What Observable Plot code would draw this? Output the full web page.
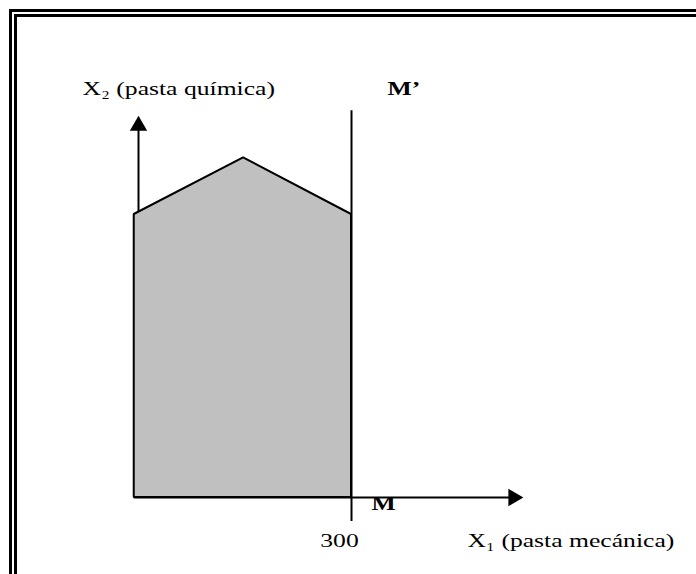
<!DOCTYPE html>
<html>
<head>
<meta charset="utf-8">
<script src="https://cdn.jsdelivr.net/npm/d3@7"></script>
<script src="https://cdn.jsdelivr.net/npm/@observablehq/plot@0.6"></script>
<style>
  html, body { margin: 0; padding: 0; background: #fff; overflow: hidden; width: 696px; height: 574px; }
  #wrap { position: relative; width: 696px; height: 574px; }
  #frame { position: absolute; left: 9px; top: 9px; width: 900px; height: 900px;
           border-top: 8px double #000; border-left: 8px double #000; pointer-events: none; }
  #chart { position: absolute; left: 0; top: 0; }
</style>
</head>
<body>
<div id="wrap"><div id="chart"></div><div id="frame"></div></div>
<script>
// Feasible region outline (x1 = pasta mecánica, x2 = pasta química)
const roofX = [-6, 148, 300];
const roofY = [100, 120, 100];
// Constraint line M–M' at x1 = 300
const limitX = [300];
const limitY1 = -8.5, limitY2 = 136.7;
// Axes
const axisXStart = -6, axisXEnd = 528;   // x1 axis (arrow head centre at end)
const axisYEnd = 131.4;                  // x2 axis (arrow head centre at end)
// Labels
const labelText = ["X\u2082 (pasta química)", "M\u2019", "M", "300", "X\u2081 (pasta mecánica)"];
const labelX = [-79, 350.7, 328, 256, 463.4];
const labelY = [144.3, 144.3, -2.2, -15.2, -15.2];
const labelBold = [false, true, true, false, false];

const region = roofX.map((x, i) => ({x, y: roofY[i]}));
const labels = labelText.map((text, i) => ({text, x: labelX[i], y: labelY[i], bold: labelBold[i]}));
const font = "'Liberation Serif', 'Times New Roman', serif";
const stretch = 1.35;

const chart = Plot.plot({
  width: 696,
  height: 574,
  margin: 0,
  x: {domain: [0, 300], range: [138, 351], axis: null},
  y: {domain: [0, 100], range: [497, 214], axis: null},
  marks: [
    // y axis line and arrow
    Plot.ruleX([0], {y1: 0, y2: axisYEnd, stroke: "#000", strokeWidth: 2}),
    Plot.dot([{x: 0, y: axisYEnd}], {x: "x", y: "y", symbol: "triangle", r: 6.43, fill: "#000", stroke: null}),
    // feasible region
    Plot.areaY(region, {x: "x", y1: 0, y2: "y", fill: "#c0c0c0", stroke: "#000", strokeWidth: 2, strokeLinejoin: "miter"}),
    // x axis line and arrow
    Plot.ruleY([0], {x1: axisXStart, x2: axisXEnd, stroke: "#000", strokeWidth: 2}),
    Plot.dot([{x: axisXEnd, y: 0}], {x: "x", y: "y", symbol: "triangle", r: 6.43, rotate: 90, fill: "#000", stroke: null}),
    // constraint line
    Plot.ruleX(limitX, {y1: limitY1, y2: limitY2, stroke: "#000", strokeWidth: 2}),
    // labels
    Plot.text(labels.filter(d => !d.bold), {x: "x", y: "y", text: "text", textAnchor: "start", fontSize: 19,
      fontFamily: font, fill: "#000"}),
    Plot.text(labels.filter(d => d.bold), {x: "x", y: "y", text: "text", textAnchor: "start", fontSize: 19,
      fontWeight: "bold", fontFamily: font, fill: "#000"})
  ]
});
document.getElementById("chart").appendChild(chart);

// The reference typography is horizontally stretched: scale each label about its anchor.
chart.querySelectorAll("text").forEach(t => {
  const tr = t.getAttribute("transform");
  if (tr && /translate/.test(tr)) {
    t.setAttribute("transform", tr + ` scale(${stretch},1)`);
  } else {
    const x = +t.getAttribute("x") || 0, y = +t.getAttribute("y") || 0;
    t.setAttribute("transform", `translate(${x},${y}) scale(${stretch},1) translate(${-x},${-y})`);
  }
});
</script>
</body>
</html>
